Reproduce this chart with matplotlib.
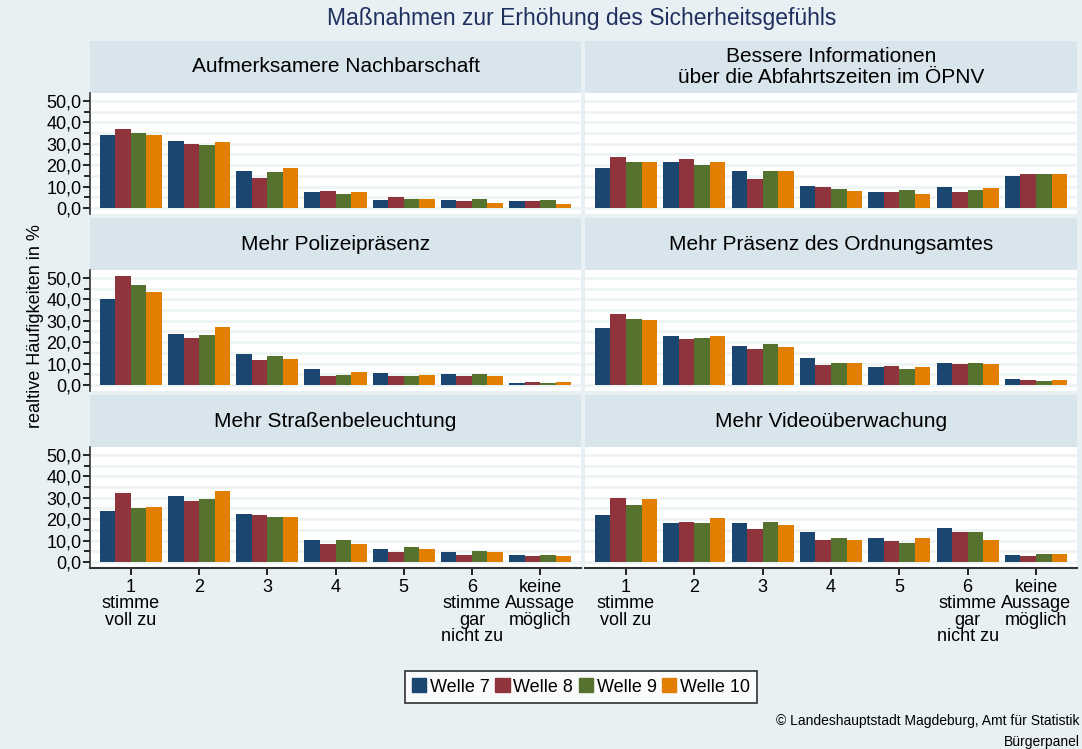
import numpy as np
import matplotlib
matplotlib.use("Agg")
from matplotlib import pyplot as plt

plt.rcParams['font.family'] = ['Liberation Sans', 'DejaVu Sans']

# Kategorien und Wellen
categories = ["1\nstimme\nvoll zu", "2", "3", "4", "5", "6\nstimme\ngar\nnicht zu", "keine\nAussage\nmöglich"]
waves = ["Welle 7", "Welle 8", "Welle 9", "Welle 10"]

# Werte je Panel: eine Zeile je Welle (7, 8, 9, 10), Spalten = Kategorien
nachbarschaft = [[33.9, 31.1, 17.1, 7.3, 3.6, 3.6, 3.1],
                 [37.1, 30.1, 13.8, 7.8, 5.0, 3.1, 3.1],
                 [35.2, 29.2, 16.6, 6.4, 4.0, 4.0, 3.6],
                 [34.3, 30.6, 18.9, 7.3, 4.0, 2.2, 1.7]]
oepnv = [[18.5, 21.3, 17.5, 10.1, 7.3, 9.6, 14.8],
         [23.6, 22.7, 13.4, 9.6, 7.3, 7.3, 15.7],
         [21.3, 19.9, 17.5, 8.7, 8.2, 8.2, 16.1],
         [21.3, 21.7, 17.5, 7.8, 6.4, 9.2, 15.7]]
polizei = [[40.3, 24.0, 14.6, 7.6, 5.8, 5.3, 1.1],
           [51.1, 22.1, 11.8, 4.4, 4.4, 4.4, 1.6],
           [46.9, 23.5, 13.7, 4.8, 4.4, 5.3, 1.1],
           [43.6, 27.3, 12.3, 6.2, 4.8, 4.4, 1.6]]
ordnungsamt = [[26.5, 22.7, 18.1, 12.5, 8.3, 10.1, 2.6],
               [33.0, 21.3, 16.7, 9.2, 8.7, 9.7, 2.2],
               [30.7, 21.8, 19.0, 10.1, 7.3, 10.1, 1.7],
               [30.2, 22.7, 17.6, 10.1, 8.3, 9.7, 2.2]]
beleuchtung = [[24.0, 31.0, 22.6, 10.5, 5.9, 4.5, 3.1],
               [32.4, 28.6, 22.1, 8.2, 4.5, 3.1, 2.6],
               [25.4, 29.6, 21.2, 10.5, 6.8, 5.0, 3.1],
               [25.9, 33.3, 21.2, 8.2, 5.9, 4.5, 2.6]]
video = [[22.1, 18.0, 18.0, 13.8, 11.0, 16.1, 3.1],
         [30.0, 18.9, 15.6, 10.5, 9.6, 13.8, 2.6],
         [26.8, 18.4, 18.9, 11.0, 9.1, 14.2, 3.6],
         [29.6, 20.7, 17.5, 10.1, 11.0, 10.1, 3.6]]

panels = [("Aufmerksamere Nachbarschaft", nachbarschaft),
          ("Bessere Informationen\nüber die Abfahrtszeiten im ÖPNV", oepnv),
          ("Mehr Polizeipräsenz", polizei),
          ("Mehr Präsenz des Ordnungsamtes", ordnungsamt),
          ("Mehr Straßenbeleuchtung", beleuchtung),
          ("Mehr Videoüberwachung", video)]

colors = ["#1b4670", "#8f343c", "#55732f", "#e27e00"]
bg = "#e8f0f3"
head_col = "#d9e5ec"
grid_col = "#eef3f3"

W, H = 1082, 749
fig = plt.figure(figsize=(W / 100, H / 100), dpi=100, facecolor=bg)


def px_axes(x0, y0, x1, y1):
    return fig.add_axes([x0 / W, 1 - y1 / H, (x1 - x0) / W, (y1 - y0) / H])


fig.text(582 / W, 1 - 18 / H, "Maßnahmen zur Erhöhung des Sicherheitsgefühls",
         ha="center", va="center", fontsize=16.5, color="#1f3060")

col_x = [(90, 581), (585, 1077)]
row_top = [41, 218, 395]
head_h = 52
plot_h = 121
bw = 0.228
x = np.arange(len(categories))

for i, (title, vals) in enumerate(panels):
    r, c = divmod(i, 2)
    x0, x1 = col_x[c]
    top = row_top[r]

    hax = px_axes(x0, top, x1, top + head_h)
    hax.set_facecolor(head_col)
    hax.set_xticks([])
    hax.set_yticks([])
    for s in hax.spines.values():
        s.set_visible(False)
    hax.text(0.5, 0.5, title, ha="center", va="center", fontsize=15,
             transform=hax.transAxes, linespacing=1.15)

    ax = px_axes(x0, top + head_h, x1, top + head_h + plot_h)
    ax.set_facecolor("white")
    for yv in np.arange(0, 55, 5):
        ax.axhline(yv, color=grid_col, lw=2, zorder=0)
    for k in range(4):
        ax.bar(x + (k - 1.5) * bw, vals[k], width=bw, color=colors[k], zorder=2)
    ax.set_xlim(-0.6, 6.6)
    ax.set_ylim(-2.8, 53.7)
    for s in ["top", "right"]:
        ax.spines[s].set_visible(False)
    if c == 0:
        ax.set_yticks(np.arange(0, 51, 10))
        ax.set_yticks(np.arange(5, 50, 10), minor=True)
        ax.set_yticklabels([f"{v:.1f}".replace(".", ",") for v in np.arange(0, 51, 10)])
        ax.tick_params(axis="y", labelsize=13, length=5, width=1.2, pad=1)
        ax.tick_params(axis="y", which="minor", length=4, width=1.2)
        ax.spines["left"].set_linewidth(1.2)
        ax.spines["left"].set_color("#333333")
    else:
        ax.set_yticks([])
        ax.spines["left"].set_visible(False)
    if r == 2:
        ax.set_xticks(x)
        ax.set_xticklabels(categories, fontsize=13, linespacing=0.95)
        ax.tick_params(axis="x", length=5, width=1.2, pad=3)
        ax.spines["bottom"].set_linewidth(1.5)
        ax.spines["bottom"].set_color("#333333")
    else:
        ax.set_xticks([])
        ax.spines["bottom"].set_visible(False)

fig.text(36 / W, 1 - 326 / H, "realtive Häufigkeiten in %", rotation=90,
         ha="center", va="center", fontsize=13)

handles = [plt.Rectangle((0, 0), 1, 1, color=col) for col in colors]
leg = fig.legend(handles, waves, loc="center", bbox_to_anchor=(581 / W, 1 - 687 / H),
                 ncol=4, fontsize=13, frameon=True, fancybox=False,
                 handlelength=0.8, handleheight=0.8, handletextpad=0.2,
                 columnspacing=0.3, borderpad=0.4)
leg.get_frame().set_edgecolor("black")
leg.get_frame().set_linewidth(1.2)

fig.text(1080 / W, 1 - 721 / H, "© Landeshauptstadt Magdeburg, Amt für Statistik",
         ha="right", va="center", fontsize=10)
fig.text(1080 / W, 1 - 742 / H, "Bürgerpanel", ha="right", va="center", fontsize=10)

fig.savefig("out.png", dpi=100, facecolor=bg)
